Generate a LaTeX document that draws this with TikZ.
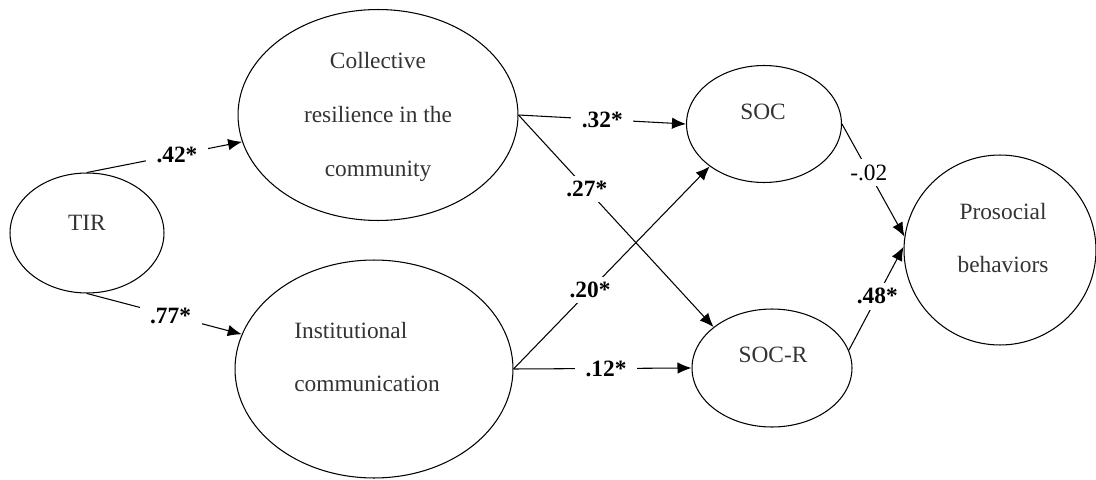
\documentclass[tikz,border=0pt]{standalone}
\usepackage{fontspec}
\setmainfont{Liberation Serif}
\usetikzlibrary{shapes.geometric, arrows.meta}

\tikzset{
  factor/.style={ellipse, draw, line width=0.6pt, inner sep=0pt},
  vartext/.style={text=black!80, font=\fontsize{13.3}{30.7}\selectfont},
  path/.style={line width=0.6pt, -{Latex[length=2.8mm,width=2.3mm]}},
  coef/.style={fill=white, inner xsep=6pt, inner ysep=3pt, font=\fontsize{13.3}{16}\selectfont\bfseries},
  plain coef/.style={coef, font=\fontsize{13.3}{16}\selectfont}
}

\begin{document}
\begin{tikzpicture}[x=0.02cm, y=-0.02cm]
  \useasboundingbox (0,0) rectangle (1096,480);

  % latent variables
  \node[factor, minimum width=3.08cm, minimum height=2.4cm] at (87,233) (tir) {};
  \node[factor, minimum width=5.6cm, minimum height=4.22cm] at (378,115) (col) {};
  \node[factor, minimum width=5.56cm, minimum height=4.36cm] at (374,369) (inst) {};
  \node[factor, minimum width=3.1cm, minimum height=2.34cm] at (764,124) (soc) {};
  \node[factor, minimum width=3.2cm, minimum height=2.36cm] at (772,368) (socr) {};
  \node[factor, minimum width=3.84cm, minimum height=3.8cm] at (1000,250) (pro) {};

  % texts
  \node[vartext] at (87,223) (tir-txt) {TIR};
  \node[vartext, align=center] at (378,117) (col-txt) {Collective\\resilience in the\\community};
  \node[vartext, align=left] at (367,357) (inst-txt) {Institutional\\communication};
  \node[vartext] at (763,112) (soc-txt) {SOC};
  \node[vartext] at (773,355) (socr-txt) {SOC-R};
  \node[vartext, align=center] at (1003,238) (pro-txt) {Prosocial\\behaviors};

  % paths
  \draw[path] (tir.north) -- node[coef, pos=0.58] {.42*} (col);
  \draw[path] (tir.south) -- node[coef, pos=0.54] {.77*} (inst);
  \draw[path] (col.east) -- node[coef, pos=0.5] {.32*} (soc.west);
  \draw[path] (col.east) -- node[coef, pos=0.35] {.27*} (socr.145);
  \draw[path] (inst.east) -- node[coef, pos=0.39] {.20*} (soc.218);
  \draw[path] (inst.east) -- node[coef, pos=0.52] {.12*} (socr.west);
  \draw[path] (soc.east) -- node[plain coef, pos=0.43] {-.02} (pro.172);
  \draw[path] (socr.13) -- node[coef, pos=0.52] {.48*} (pro.178);
\end{tikzpicture}
\end{document}
